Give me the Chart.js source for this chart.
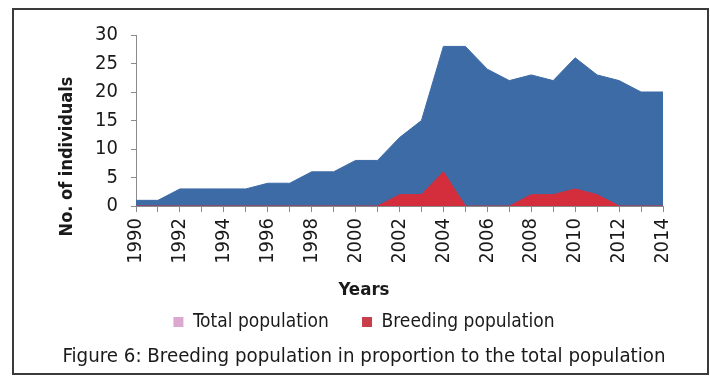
<!DOCTYPE html>
<html>
<head>
<meta charset="utf-8">
<script src="https://cdn.jsdelivr.net/npm/chart.js@4/dist/chart.umd.min.js"></script>
<style>
  html, body { margin: 0; padding: 0; background: #fff; }
  #wrap { width: 710px; height: 376px; }
</style>
</head>
<body>
<div id="wrap"><canvas id="popChart"></canvas></div>
<script>
var years = ['1990', '1991', '1992', '1993', '1994', '1995', '1996', '1997', '1998', '1999', '2000', '2001', '2002',
             '2003', '2004', '2005', '2006', '2007', '2008', '2009', '2010', '2011', '2012', '2013', '2014'];
var totalPopulation = [1, 1, 3, 3, 3, 3, 4, 4, 6, 6, 8, 8, 12, 15, 28, 28, 24, 22, 23, 22, 26, 23, 22, 20, 20];
var breedingPopulation = [0, 0, 0, 0, 0, 0, 0, 0, 0, 0, 0, 0, 2, 2, 6, 0, 0, 0, 2, 2, 3, 2, 0, 0, 0];
var yTicks = [0, 5, 10, 15, 20, 25, 30];

var FONT = "'Liberation Sans Narrow', 'DejaVu Sans Condensed', 'Arial Narrow', 'Liberation Sans', sans-serif";
var TEXT = '#1a1a1a';
var AXIS = '#8a8a8a';

// frame round the figure, plus the y-axis caption which sits low beside the axis
var framePlugin = {
    id: 'frame',
    afterDraw: function (chart) {
        var ctx = chart.ctx;
        ctx.save();
        ctx.strokeStyle = '#3a3a3a';
        ctx.lineWidth = 2;
        ctx.strokeRect(13, 9, 695, 365);

        ctx.translate(67.5, 156.5);
        ctx.rotate(-Math.PI / 2);
        ctx.fillStyle = TEXT;
        ctx.font = "bold 18px " + FONT;
        ctx.textAlign = 'center';
        ctx.textBaseline = 'middle';
        ctx.fillText('No. of individuals', 0, 0);
        ctx.restore();
    }
};

var ctx = document.getElementById('popChart').getContext('2d');
var popChart = new Chart(ctx, {
    type: 'line',
    data: {
        labels: years,
        datasets: [{
            label: 'Total population',
            data: totalPopulation,
            backgroundColor: '#3d6ba6',
            borderColor: '#3d6ba6',
            borderWidth: 1,
            fill: 'origin',
            pointRadius: 0,
            tension: 0,
            order: 1
        }, {
            label: 'Breeding population',
            data: breedingPopulation,
            backgroundColor: '#d42e3c',
            borderColor: '#d42e3c',
            borderWidth: 1,
            fill: 'origin',
            pointRadius: 0,
            tension: 0,
            order: 0
        }]
    },
    options: {
        responsive: true,
        maintainAspectRatio: false,
        animation: false,
        layout: { padding: { left: 18, right: 0, top: 35, bottom: 0 } },
        plugins: {
            tooltip: { enabled: false },
            legend: {
                position: 'bottom',
                weight: 1000,
                labels: {
                    font: { family: FONT, size: 19 },
                    color: TEXT,
                    boxWidth: 10,
                    boxHeight: 10,
                    padding: 6,
                    generateLabels: function (chart) {
                        var items = Chart.defaults.plugins.legend.labels.generateLabels(chart);
                        items.sort(function (a, b) { return a.datasetIndex - b.datasetIndex; });
                        items.forEach(function (item) {
                            item.lineWidth = 0;
                            if (item.datasetIndex === 0) {
                                item.fillStyle = '#dca8cf';
                                item.text = item.text + '     ';
                            } else {
                                item.fillStyle = '#c83f4a';
                            }
                        });
                        return items;
                    }
                }
            },
            subtitle: {
                display: true,
                position: 'bottom',
                weight: 500,
                text: 'Years',
                color: TEXT,
                font: { family: FONT, size: 18.5, weight: 'bold' },
                padding: { top: 16.9, bottom: 5.4 }
            },
            title: {
                display: true,
                position: 'bottom',
                weight: 2000,
                text: 'Figure 6: Breeding population in proportion to the total population',
                color: TEXT,
                font: { family: FONT, size: 20.3, weight: 'normal' },
                padding: { top: 3.3, bottom: 6.8 }
            }
        },
        scales: {
            x: {
                offset: false,
                grid: { display: true, drawOnChartArea: false, drawTicks: true, tickLength: 6, color: AXIS },
                border: { display: true, color: AXIS },
                ticks: {
                    autoSkip: false,
                    maxRotation: 90,
                    minRotation: 90,
                    padding: 6,
                    color: TEXT,
                    font: { family: FONT, size: 20 },
                    callback: function (value, index) {
                        return index % 2 === 0 ? years[index] : '';
                    }
                },
                afterFit: function (scale) { scale.height = 56; }
            },
            y: {
                min: 0,
                max: 30,
                afterBuildTicks: function (scale) {
                    scale.ticks = yTicks.map(function (v) { return { value: v }; });
                },
                grid: { display: true, drawOnChartArea: false, drawTicks: true, tickLength: 5, color: AXIS },
                border: { display: true, color: AXIS },
                ticks: {
                    autoSkip: false,
                    padding: 13,
                    color: TEXT,
                    font: { family: FONT, size: 20 }
                },
                afterFit: function (scale) { scale.width = 118; }
            },
            // empty right-hand strip that keeps the plot clear of the frame
            yRight: {
                position: 'right',
                display: true,
                grid: { display: false },
                border: { display: false },
                ticks: { display: false },
                afterFit: function (scale) { scale.width = 47; }
            }
        }
    },
    plugins: [framePlugin]
});
</script>
</body>
</html>
